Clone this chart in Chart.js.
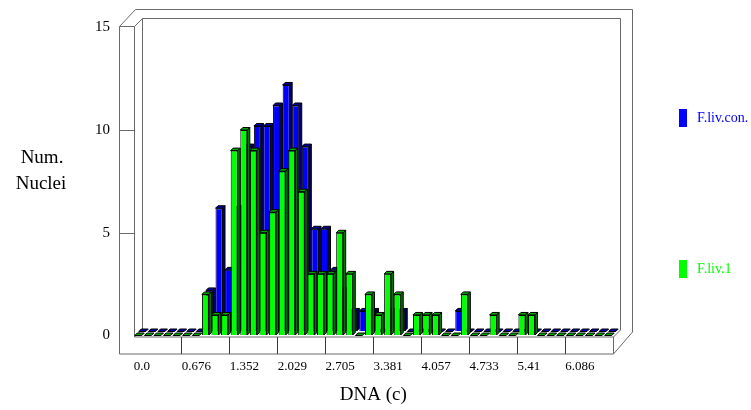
<!DOCTYPE html>
<html>
<head>
<meta charset="utf-8">
<script src="https://cdn.jsdelivr.net/npm/chart.js@4.4.1/dist/chart.umd.min.js"></script>
<style>
html,body{margin:0;padding:0;background:#ffffff;}
#wrap{position:relative;width:751px;height:410px;}
</style>
</head>
<body>
<div id="wrap"><canvas id="c" width="751" height="410"></canvas></div>
<script>
// DNA content bins (bin start, c)
const binStarts = ["0.000","0.135","0.270","0.406","0.541","0.676","0.811","0.947","1.082","1.217",
                   "1.352","1.488","1.623","1.758","1.893","2.029","2.164","2.299","2.434","2.570",
                   "2.705","2.840","2.975","3.111","3.246","3.381","3.516","3.652","3.787","3.922",
                   "4.057","4.193","4.328","4.463","4.598","4.733","4.869","5.004","5.139","5.274",
                   "5.410","5.545","5.680","5.815","5.951","6.086","6.221","6.356","6.492","6.627"];
// Axis tick labels (every 5th bin on x)
const tickLabels = ["0.0","0.676","1.352","2.029","2.705","3.381","4.057","4.733","5.41","6.086"];
const yTicks = [0, 5, 10, 15];
// Series
const seriesNames = ["F.liv.con.", "F.liv.1"];
const livCon = [0,0,0,0,0,0,0,2,6,3,
                6,9,10,10,11,12,11,9,5,5,
                3,2,1,1,1,0,1,1,0,0,
                0,0,0,1,0,0,0,0,0,0,
                0,0,0,0,0,0,0,0,0,0];
const livOne = [0,0,0,0,0,0,0,2,1,1,
                9,10,9,5,6,8,9,7,3,3,
                3,5,3,0,2,1,3,2,0,1,
                1,1,0,0,2,0,0,1,0,0,
                1,1,0,0,0,0,0,0,0,0];

const SERIF = "'Liberation Serif', 'Times New Roman', serif";
const DEPTH = 2.5;
// keyed by dataset index: 0 = F.liv.1 (front), 1 = F.liv.con. (behind, shifted back)
const faces = {
  0: {top: '#00a800', side: '#007800', shift: [0, 0]},
  1: {top: '#0000a8', side: '#000078', shift: [4, -4]}
};

const bars3d = {
  id: 'bars3d',
  beforeDatasetDraw(chart, args) {
    const f = faces[args.index];
    chart.ctx.save();
    chart.ctx.translate(f.shift[0], f.shift[1]);
  },
  afterDatasetDraw(chart, args) {
    const ctx = chart.ctx;
    const f = faces[args.index];
    ctx.lineWidth = 1;
    ctx.strokeStyle = '#000000';
    args.meta.data.forEach(el => {
      const p = el.getProps(['x', 'y', 'base', 'width'], true);
      const l = p.x - p.width / 2, r = p.x + p.width / 2;
      const t = Math.min(p.y, p.base), b = Math.max(p.y, p.base);
      ctx.beginPath();
      ctx.moveTo(l, t); ctx.lineTo(l + DEPTH, t - DEPTH);
      ctx.lineTo(r + DEPTH, t - DEPTH); ctx.lineTo(r, t); ctx.closePath();
      ctx.fillStyle = f.top; ctx.fill(); ctx.stroke();
      if (b - t > 0.5) {
        ctx.beginPath();
        ctx.moveTo(r, t); ctx.lineTo(r + DEPTH, t - DEPTH);
        ctx.lineTo(r + DEPTH, b - DEPTH); ctx.lineTo(r, b); ctx.closePath();
        ctx.fillStyle = f.side; ctx.fill(); ctx.stroke();
      }
    });
    ctx.restore();
  }
};

const frame3d = {
  id: 'frame3d',
  beforeDatasetsDraw(chart) {
    const ctx = chart.ctx;
    const a = chart.chartArea;
    const ys = chart.scales.y;
    const xs = chart.scales.x;
    const L = Math.round(a.left) + 0.5;
    const R = Math.round(a.right) + 0.5;
    const B = Math.round(a.bottom) + 1;
    const T = Math.round(a.top) - 0.5;
    const OL = L - 15, OB = B + 17, BD = 8;
    ctx.save();
    ctx.lineWidth = 1;
    ctx.strokeStyle = '#6a6a6a';
    const seg = (pts) => { ctx.beginPath(); ctx.moveTo(pts[0][0], pts[0][1]); for (let i = 1; i < pts.length; i++) ctx.lineTo(pts[i][0], pts[i][1]); ctx.stroke(); };
    seg([[OL, OB], [OL, T], [OL + 16, T - 17], [R + 19, T - 17], [R + 19, OB - 22], [R, OB], [OL, OB]]);
    seg([[OL, T], [L, T], [L, B]]);
    seg([[L, T], [L + BD, T - BD], [R + 7, T - BD], [R + 7, B - 7], [R, B]]);
    seg([[L + BD, T - BD], [L + BD, B - BD], [L, B]]);
    seg([[L, B], [R, B], [R, OB]]);
    yTicks.forEach(v => {
      if (v === 0 || v === 15) return;
      const y = Math.round(ys.getPixelForValue(v)) + 0.5;
      seg([[OL, y], [L, y]]);
    });
    ctx.strokeStyle = '#3a3a3a';
    const half = (xs.getPixelForValue(1) - xs.getPixelForValue(0)) / 2;
    for (let k = 5; k < binStarts.length; k += 5) {
      const x = Math.round(xs.getPixelForValue(k) - half) + 0.5;
      seg([[x, B], [x, OB]]);
    }
    ctx.restore();
  }
};

const textDeco = {
  id: 'textDeco',
  afterDraw(chart) {
    const ctx = chart.ctx;
    ctx.save();
    ctx.fillStyle = '#000000';
    ctx.font = '19px ' + SERIF;
    ctx.textAlign = 'center';
    ctx.textBaseline = 'middle';
    ctx.fillText('Num.', 42, 158);
    ctx.fillText('Nuclei', 41, 184);
    const leg = [
      {name: seriesNames[0], color: '#0000ff', y: 118},
      {name: seriesNames[1], color: '#00ff00', y: 269}
    ];
    ctx.font = '14px ' + SERIF;
    ctx.textAlign = 'left';
    leg.forEach(it => {
      ctx.fillStyle = it.color;
      ctx.fillRect(679, it.y - 9, 8, 18);
      ctx.fillText(it.name, 697, it.y);
    });
    ctx.restore();
  }
};

new Chart(document.getElementById('c'), {
  type: 'bar',
  data: {
    labels: binStarts,
    datasets: [
      {label: seriesNames[1], data: livOne, backgroundColor: '#00ff00', borderColor: '#000000', borderWidth: 1, grouped: false, order: 0, clip: false},
      {label: seriesNames[0], data: livCon, backgroundColor: '#0000ff', borderColor: '#000000', borderWidth: 1, grouped: false, order: 1, clip: false}
    ]
  },
  options: {
    responsive: false,
    animation: false,
    devicePixelRatio: 1,
    layout: {autoPadding: false, padding: {left: 0, right: 138, top: 27.3, bottom: 0}},
    datasets: {bar: {barPercentage: 1, categoryPercentage: 0.73}},
    scales: {
      x: {
        type: 'category',
        afterFit: s => { s.height = 74.5; },
        grid: {display: false, drawTicks: false},
        border: {display: false},
        ticks: {
          autoSkip: false, maxRotation: 0, minRotation: 0, align: 'start', labelOffset: -4.5, padding: 23,
          color: '#000000', font: {family: SERIF, size: 13},
          callback: (v, i) => (i % 5 === 0 ? tickLabels[i / 5] : '')
        },
        title: {display: true, text: 'DNA (c)', color: '#000000', font: {family: SERIF, size: 19}, padding: {top: 0, bottom: 4}}
      },
      y: {
        min: 0, max: 15,
        afterFit: s => { s.width = 133.5; },
        afterBuildTicks: s => { s.ticks = yTicks.map(v => ({value: v})); },
        grid: {display: true, drawOnChartArea: false, drawTicks: true, tickLength: 23.5, color: 'rgba(0,0,0,0)'},
        border: {display: false},
        ticks: {padding: 0, color: '#000000', font: {family: SERIF, size: 15}}
      }
    },
    plugins: {legend: {display: false}, tooltip: {enabled: false}, title: {display: false}}
  },
  plugins: [frame3d, bars3d, textDeco]
});
</script>
</body>
</html>
